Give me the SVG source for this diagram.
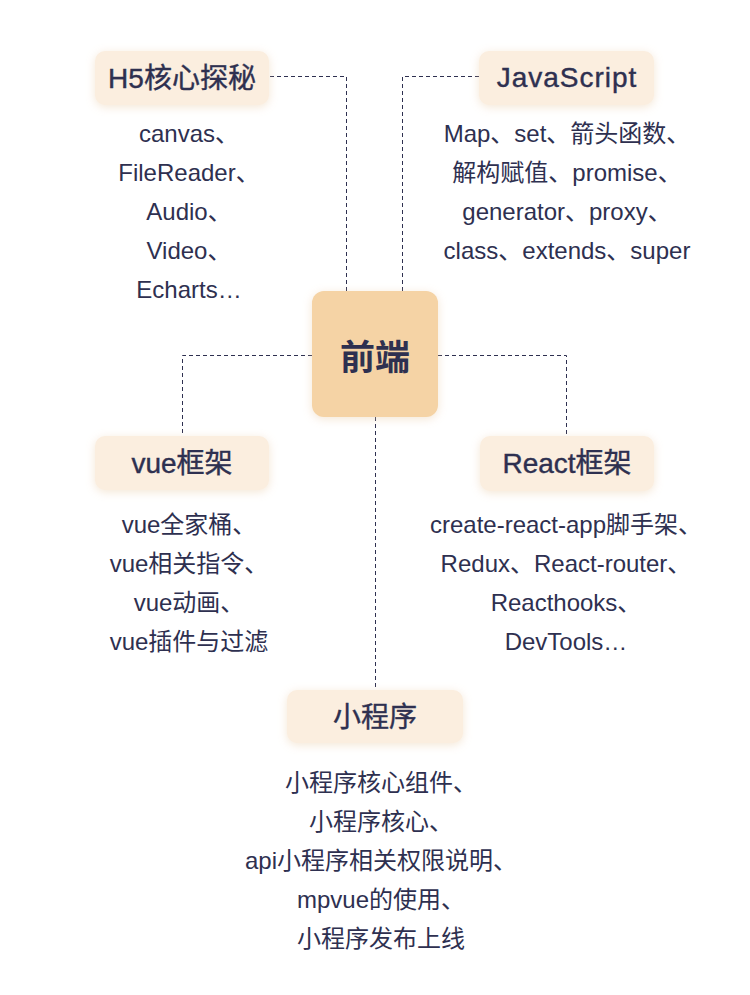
<svg xmlns="http://www.w3.org/2000/svg" width="750" height="995" viewBox="0 0 750 995">
<defs>
<filter id="glow" x="-30%" y="-40%" width="160%" height="180%">
<feDropShadow dx="0" dy="2" stdDeviation="5" flood-color="#e8c9a0" flood-opacity="0.45"/>
</filter>
</defs>
<style>
.box{fill:#FBEEDF;filter:url(#glow)}
.center{fill:#F5D3A5;filter:url(#glow)}
.title{font-family:"Liberation Sans","Noto Sans CJK SC",sans-serif;font-size:28px;font-weight:normal;fill:#2E3050;stroke:#2E3050;stroke-width:0.4;text-anchor:middle}
.big{font-family:"Noto Sans CJK SC","Liberation Sans",sans-serif;font-size:35px;font-weight:bold;fill:#2E3050;text-anchor:middle}
.item{font-family:"Liberation Sans","Noto Sans CJK SC",sans-serif;font-size:24px;fill:#2E3050;text-anchor:middle}
.conn{fill:none;stroke:#2E3050;stroke-width:1;stroke-dasharray:4 3}
</style>
<rect width="750" height="995" fill="#FFFFFF"/>
<g id="connectors">
<path class="conn" d="M270,76.5 H346.5 V291"/>
<path class="conn" d="M479,76.5 H402.5 V291"/>
<path class="conn" d="M312,355.5 H182.5 V436"/>
<path class="conn" d="M438,355.5 H566.5 V436"/>
<path class="conn" d="M375.5,417 V690"/>
</g>
<g id="center">
<rect class="center" x="312" y="291" width="126" height="126" rx="12"/>
<text class="big" x="375" y="370">前端</text>
</g>
<g id="h5">
<rect class="box" x="95" y="51" width="174" height="54" rx="10"/>
<text class="title" x="182" y="88">H5核心探秘</text>
<text class="item" x="189" y="142">canvas、</text>
<text class="item" x="189" y="181">FileReader、</text>
<text class="item" x="189" y="220">Audio、</text>
<text class="item" x="189" y="259">Video、</text>
<text class="item" x="189" y="298">Echarts…</text>
</g>
<g id="js">
<rect class="box" x="479" y="51" width="175" height="54" rx="10"/>
<text class="title" x="567" y="87" letter-spacing="1">JavaScript</text>
<text class="item" x="567" y="142">Map、set、箭头函数、</text>
<text class="item" x="567" y="181">解构赋值、promise、</text>
<text class="item" x="567" y="220">generator、proxy、</text>
<text class="item" x="567" y="259">class、extends、super</text>
</g>
<g id="vue">
<rect class="box" x="95" y="436" width="174" height="54" rx="10"/>
<text class="title" x="182" y="473">vue框架</text>
<text class="item" x="189" y="533">vue全家桶、</text>
<text class="item" x="189" y="572">vue相关指令、</text>
<text class="item" x="189" y="611">vue动画、</text>
<text class="item" x="189" y="650">vue插件与过滤</text>
</g>
<g id="react">
<rect class="box" x="480" y="436" width="174" height="55" rx="10"/>
<text class="title" x="567" y="473">React框架</text>
<text class="item" x="566" y="533">create-react-app脚手架、</text>
<text class="item" x="566" y="572">Redux、React-router、</text>
<text class="item" x="566" y="611">Reacthooks、</text>
<text class="item" x="566" y="650">DevTools…</text>
</g>
<g id="miniprogram">
<rect class="box" x="287" y="690" width="176" height="53" rx="10"/>
<text class="title" x="375" y="727">小程序</text>
<text class="item" x="381" y="791">小程序核心组件、</text>
<text class="item" x="381" y="830">小程序核心、</text>
<text class="item" x="381" y="869">api小程序相关权限说明、</text>
<text class="item" x="381" y="908">mpvue的使用、</text>
<text class="item" x="381" y="947">小程序发布上线</text>
</g>
</svg>
